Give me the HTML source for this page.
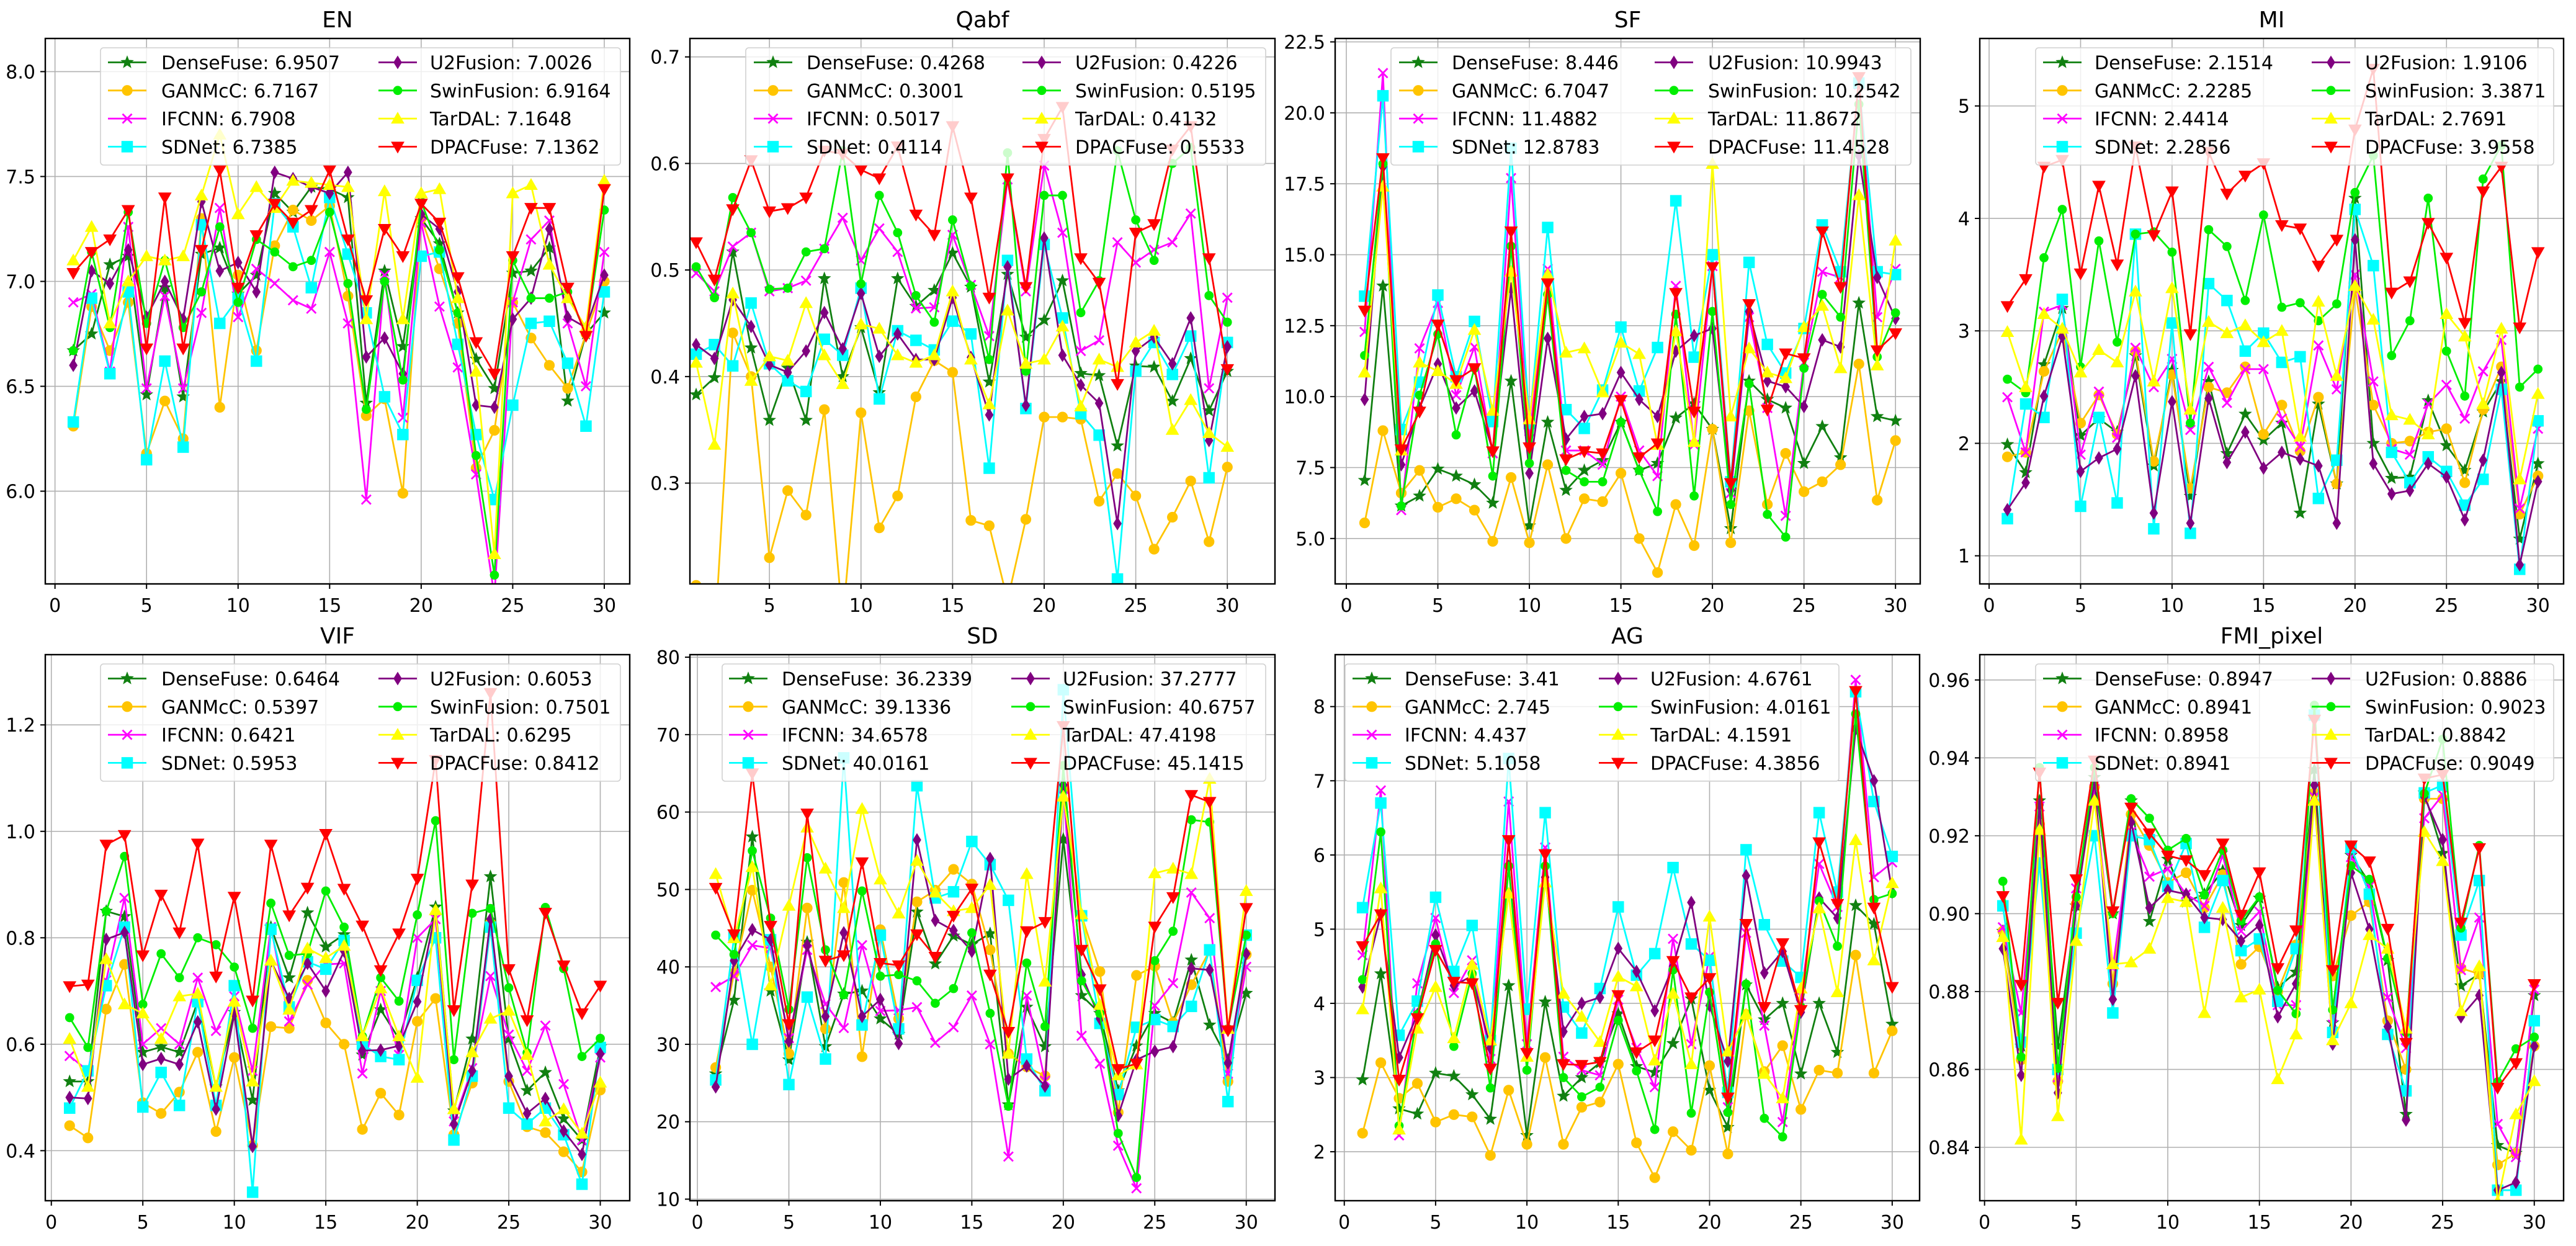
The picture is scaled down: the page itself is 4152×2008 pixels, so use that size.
<!DOCTYPE html>
<html><head><meta charset="utf-8"><title>Fusion metrics</title>
<style>
html,body{margin:0;padding:0;background:#fff;}
svg{display:block;font-family:"DejaVu Sans","Liberation Sans",sans-serif;}
</style></head>
<body>
<svg id="fig" width="4152" height="2008" viewBox="0 0 4152 2008" xmlns="http://www.w3.org/2000/svg"></svg>
<script>
const methods = ["DenseFuse","GANMcC","IFCNN","SDNet","U2Fusion","SwinFusion","TarDAL","DPACFuse"];
const xCategories = [1,2,3,4,5,6,7,8,9,10,11,12,13,14,15,16,17,18,19,20,21,22,23,24,25,26,27,28,29,30];
const xTickLabels = [0,5,10,15,20,25,30];

const EN = [
[6.67,6.75,7.08,7.12,6.46,6.97,6.45,7.13,7.16,6.94,7.03,7.42,7.33,7.45,7.44,7.4,6.42,7.05,6.69,7.3,7.18,6.85,6.63,6.49,7.04,7.05,7.16,6.43,6.75,6.85],
[6.31,6.88,6.67,6.9,6.18,6.43,6.25,7.3,6.4,7.03,6.67,7.17,7.34,7.29,7.36,6.93,6.36,6.44,5.99,7.3,7.06,6.8,6.11,6.29,6.9,6.73,6.6,6.49,6.75,7.0],
[6.9,6.94,6.57,7.26,6.49,6.93,6.49,6.85,7.35,6.83,7.06,6.99,6.91,6.87,7.14,6.8,5.96,7.03,6.35,7.28,6.88,6.59,6.08,5.5,6.9,7.2,7.29,6.8,6.5,7.14],
[6.33,6.92,6.56,6.95,6.15,6.62,6.21,7.27,6.8,6.92,6.62,7.37,7.26,6.97,7.4,7.13,6.85,6.45,6.27,7.12,7.14,6.7,6.27,5.96,6.41,6.8,6.81,6.61,6.31,6.95],
[6.6,7.05,6.99,7.15,6.83,7.0,6.82,7.38,7.05,7.09,6.95,7.52,7.49,7.45,7.42,7.52,6.64,6.73,6.56,7.32,7.25,6.95,6.41,6.4,6.82,6.92,7.25,6.83,6.78,7.03],
[6.67,7.14,6.78,7.33,6.8,7.1,6.78,6.95,7.26,6.9,7.2,7.14,7.07,7.1,7.33,6.99,6.39,7.0,6.53,7.38,7.15,6.85,6.17,5.6,7.1,6.92,6.92,6.95,6.75,7.34],
[7.1,7.26,6.8,7.0,7.12,7.1,7.12,7.41,7.7,7.32,7.45,7.35,7.48,7.47,7.46,7.45,6.82,7.43,6.82,7.42,7.44,6.92,6.57,5.7,7.42,7.46,7.08,6.92,6.78,7.48],
[7.04,7.14,7.2,7.34,6.68,7.4,6.68,7.15,7.53,6.97,7.22,7.37,7.28,7.34,7.53,7.2,6.91,7.25,7.12,7.37,7.28,7.02,6.71,6.56,7.12,7.35,7.35,6.97,6.74,7.44]];

const QABF = [
[.383,.399,.517,.427,.359,.408,.359,.492,.4,.446,.385,.492,.466,.481,.516,.484,.395,.496,.437,.453,.49,.403,.401,.335,.41,.409,.377,.417,.368,.405],
[.204,.15,.441,.4,.23,.293,.27,.369,.17,.366,.258,.288,.381,.415,.404,.265,.26,.19,.266,.362,.362,.36,.283,.309,.288,.238,.268,.302,.245,.315],
[.497,.48,.522,.535,.48,.483,.49,.52,.549,.509,.539,.517,.464,.465,.533,.486,.438,.585,.48,.598,.535,.424,.434,.526,.507,.519,.526,.553,.389,.474],
[.421,.43,.41,.469,.412,.396,.386,.435,.42,.483,.379,.443,.434,.425,.452,.44,.314,.509,.37,.524,.455,.365,.345,.21,.405,.432,.402,.438,.305,.432],
[.43,.417,.472,.447,.411,.404,.424,.46,.426,.478,.419,.44,.416,.416,.474,.418,.364,.503,.373,.53,.42,.392,.375,.262,.424,.437,.412,.455,.34,.428],
[.503,.474,.568,.535,.482,.483,.517,.52,.612,.487,.57,.535,.476,.451,.547,.485,.416,.61,.405,.57,.57,.46,.49,.612,.547,.509,.6,.615,.476,.451],
[.413,.336,.478,.396,.419,.415,.469,.42,.393,.449,.445,.42,.413,.42,.48,.416,.374,.462,.412,.416,.447,.372,.416,.409,.432,.443,.35,.378,.347,.334],
[.526,.491,.557,.603,.555,.558,.568,.612,.609,.594,.586,.616,.552,.533,.635,.568,.474,.586,.484,.623,.653,.511,.488,.393,.535,.543,.613,.635,.511,.407]];

const SF = [
[7.05,13.9,6.15,6.5,7.45,7.2,6.9,6.25,10.55,5.45,9.1,6.7,7.4,7.75,9.1,7.4,7.65,9.25,9.75,8.85,5.35,10.55,9.9,9.6,7.65,8.95,7.85,13.3,9.3,9.15],
[5.55,8.8,6.6,7.4,6.1,6.4,6.0,4.9,7.15,4.85,7.6,5.0,6.4,6.3,7.3,5.0,3.8,6.2,4.75,8.85,4.85,9.5,6.2,8.0,6.65,7.0,7.6,11.15,6.35,8.45],
[12.28,21.4,6.0,11.7,13.3,10.05,11.75,8.0,17.7,8.5,14.5,8.1,8.1,7.6,10.0,8.1,7.2,13.9,8.3,14.6,6.6,12.8,9.6,5.8,11.2,14.4,14.2,21.0,12.8,14.5],
[13.54,20.6,8.84,10.51,13.58,10.7,12.65,9.12,18.75,9.05,15.96,9.54,8.88,10.23,12.45,10.2,11.73,16.9,11.39,15.0,7.0,14.73,11.84,10.83,12.4,16.05,14.4,21.05,14.4,14.3],
[9.9,18.1,7.6,9.6,11.15,9.6,10.2,8.1,13.8,7.3,12.05,8.5,9.3,9.4,10.85,9.9,9.3,11.6,12.15,12.4,6.7,13.0,10.55,10.35,9.65,12.0,11.75,18.5,14.2,12.75],
[11.45,18.2,6.15,10.05,12.2,8.65,11.0,7.2,15.3,7.65,13.6,7.4,7.0,7.0,9.1,7.4,5.95,12.9,6.5,13.0,6.2,10.45,5.85,5.05,11.0,13.6,12.8,20.3,11.4,12.95],
[10.85,17.4,8.1,11.2,10.9,10.45,12.35,9.5,14.4,9.2,14.3,11.55,11.7,10.15,11.9,11.5,8.3,12.3,8.4,18.2,9.3,11.7,10.85,10.65,12.45,13.2,11.0,17.1,11.1,15.5],
[13.03,18.4,8.14,9.47,12.54,10.58,11.0,8.07,15.82,8.21,13.99,7.79,8.07,8.0,9.88,7.86,8.35,13.65,9.47,14.56,6.95,13.26,9.54,11.52,11.35,15.82,13.86,21.26,11.63,12.23]];

const MI = [
[1.99,1.74,2.7,3.2,2.07,2.22,2.1,2.78,1.8,2.65,1.53,2.55,1.91,2.26,2.03,2.18,1.38,2.35,1.64,4.18,2.0,1.69,1.7,2.38,1.98,1.76,2.28,2.55,1.15,1.82],
[1.88,1.92,2.64,3.0,2.18,2.43,2.08,2.82,1.84,2.61,1.6,2.5,2.45,2.68,2.08,2.34,1.93,2.41,1.64,3.38,2.34,2.0,2.02,2.1,2.13,1.65,2.3,2.68,1.37,1.71],
[2.41,1.92,3.17,3.23,1.9,2.46,2.05,2.85,2.5,2.75,2.12,2.68,2.36,2.66,2.66,2.22,1.97,2.87,2.48,3.5,2.55,1.95,1.9,2.35,2.52,2.22,2.64,2.92,1.42,2.13],
[1.33,2.35,2.23,3.28,1.44,2.23,1.47,3.86,1.24,3.07,1.2,3.42,3.27,2.82,2.98,2.72,2.77,1.51,1.85,4.08,3.58,1.92,1.65,1.88,1.75,1.45,1.68,2.48,0.88,2.2],
[1.41,1.65,2.42,2.95,1.75,1.87,1.95,2.6,1.38,2.37,1.29,2.4,1.83,2.1,1.78,1.92,1.86,1.8,1.29,3.81,1.82,1.55,1.58,1.82,1.7,1.32,1.85,2.63,0.92,1.66],
[2.57,2.45,3.65,4.08,2.68,3.8,2.9,3.86,3.88,3.7,2.18,3.9,3.75,3.27,4.03,3.21,3.25,3.09,3.24,4.23,4.56,2.78,3.09,4.18,2.82,2.42,4.35,4.65,2.5,2.66],
[2.99,2.5,3.15,3.02,2.63,2.83,2.72,3.35,2.55,3.38,2.3,3.08,2.98,3.05,2.9,3.0,2.06,3.26,2.6,3.4,3.1,2.25,2.21,2.08,3.15,2.95,2.35,3.02,1.68,2.44],
[3.22,3.46,4.46,4.52,3.51,4.29,3.59,4.64,3.85,4.24,2.97,4.59,4.22,4.38,4.49,3.94,3.91,3.58,3.81,4.79,5.33,3.34,3.44,3.96,3.65,3.07,4.24,4.46,3.03,3.7]];

const VIF = [
[.53,.53,.85,.84,.585,.595,.585,.68,.52,.66,.495,.82,.725,.847,.783,.806,.58,.665,.61,.725,.858,.475,.61,.915,.61,.513,.547,.46,.42,.595],
[.447,.424,.666,.75,.49,.47,.51,.585,.436,.575,.41,.633,.63,.72,.64,.6,.44,.508,.467,.643,.686,.43,.527,.828,.53,.445,.434,.398,.36,.514],
[.578,.55,.72,.875,.6,.63,.6,.725,.625,.69,.55,.82,.643,.712,.75,.752,.545,.7,.58,.8,.835,.455,.555,.728,.618,.55,.635,.525,.42,.575],
[.48,.55,.71,.82,.482,.547,.485,.68,.485,.71,.322,.816,.67,.755,.741,.795,.6,.577,.571,.72,.8,.42,.54,.82,.48,.45,.48,.43,.337,.594],
[.5,.498,.797,.81,.562,.573,.562,.642,.478,.657,.408,.756,.686,.752,.7,.775,.588,.589,.597,.68,.85,.45,.55,.835,.54,.47,.498,.437,.393,.582],
[.65,.594,.85,.953,.675,.77,.725,.8,.787,.745,.63,.865,.767,.77,.888,.82,.615,.725,.681,.843,1.02,.571,.846,.855,.706,.584,.857,.742,.577,.611],
[.61,.52,.76,.675,.658,.61,.69,.695,.52,.68,.53,.757,.665,.78,.762,.785,.615,.705,.615,.537,.852,.478,.585,.648,.663,.58,.455,.478,.432,.528],
[.709,.712,.975,.993,.767,.881,.81,.977,.727,.877,.682,.975,.842,.894,.995,.892,.823,.739,.808,.911,1.134,.664,.9,1.26,.741,.645,.847,.748,.658,.71]];

const SD = [
[26.2,35.7,56.8,36.9,28.0,43.2,29.7,36.5,36.9,33.3,31.3,47.1,40.4,44.0,42.9,44.3,22.2,34.8,29.7,56.5,36.3,34.0,24.0,29.8,34.0,32.8,40.9,32.5,28.0,36.6],
[27.0,39.2,49.9,40.0,28.8,47.6,32.0,50.9,28.4,44.8,33.3,48.4,49.9,52.6,50.7,42.2,28.8,27.1,25.9,63,46.6,39.4,21.2,38.9,40.1,32.8,37.7,42.1,25.2,41.6],
[37.4,38.8,42.8,42.4,30.8,42.2,35.2,32.1,42.8,34.3,34.4,34.8,30.2,32.2,36.3,30.0,15.5,36.3,25.3,63,31.1,27.5,16.9,11.4,35.0,37.9,49.6,46.3,26.2,40.0],
[25.4,43.8,30.0,43.5,24.8,36.1,28.1,67,32.5,44.1,32.0,63.4,48.9,49.7,56.2,53.2,48.6,28.1,24.0,75.8,46.6,32.7,23.5,32.2,33.2,32.3,34.9,42.2,22.6,44.1],
[24.5,40.8,44.8,43.5,30.4,42.8,33.6,44.4,33.6,35.8,30.1,56.4,46.0,44.7,42.0,54.0,25.5,27.2,24.6,63.5,39.0,33.3,20.8,28.0,29.1,29.7,39.8,39.6,27.6,41.7],
[44.1,41.6,55.0,46.3,34.5,54.1,42.2,36.4,49.8,38.8,39.0,38.2,35.3,37.2,44.4,34.0,22.0,40.5,32.3,66,38.2,34.0,18.5,12.8,40.8,44.6,59.0,58.7,32,44.1],
[52,43.7,52.9,37.6,47.9,58,52.7,47.6,60.4,51.3,46.9,53.7,49.6,47.2,47.6,50.6,28.8,52,38.1,62,46.8,35.1,26.0,27.4,52.1,52.7,52.0,64.3,32.0,49.8],
[50.2,44.2,65,45.3,32.6,59.8,40.8,41.5,53.5,40.5,40.2,44.2,41.3,46.6,50.1,39.0,31.6,44.6,45.8,71.1,42.2,37.1,26.8,27.5,45.2,49.0,62.2,61.3,31.8,47.6]];

const AG = [
[2.97,4.4,2.58,2.51,3.06,3.02,2.77,2.44,4.24,2.22,4.02,2.75,3.0,3.2,3.86,3.15,3.07,3.46,4.06,2.83,2.33,4.25,3.78,4.0,3.05,4.0,3.34,5.32,5.07,3.72],
[2.25,3.2,2.72,2.92,2.4,2.5,2.47,1.95,2.83,2.1,3.27,2.1,2.6,2.67,3.18,2.12,1.65,2.27,2.02,3.16,1.97,3.85,3.08,3.43,2.57,3.1,3.06,4.65,3.06,3.63],
[4.65,6.87,2.22,4.27,5.15,4.14,4.58,3.25,6.72,3.45,6.1,3.28,3.1,3.03,4.05,3.4,2.87,4.87,3.45,4.63,2.6,4.95,3.7,2.4,4.1,5.88,5.3,8.36,5.7,5.9],
[5.29,6.7,3.57,4.03,5.43,4.43,5.05,3.5,7.3,3.92,6.57,3.95,3.6,4.2,5.3,4.38,4.67,5.83,4.8,4.58,2.8,6.07,5.06,4.57,4.35,6.57,5.5,8.2,6.72,5.98],
[4.22,5.2,3.27,3.85,4.92,4.24,4.37,3.4,5.85,3.35,5.7,3.62,4.0,4.08,4.74,4.43,3.9,4.5,5.36,3.97,3.22,5.72,4.41,4.7,3.88,5.42,5.15,7.7,7.0,5.5],
[4.32,6.31,2.35,3.85,4.8,3.42,4.4,2.86,5.85,3.1,5.85,3.0,2.74,2.87,3.77,3.09,2.3,4.45,2.52,4.15,2.53,4.26,2.45,2.2,3.95,5.38,4.77,7.9,5.4,5.48],
[3.92,5.55,2.3,3.66,4.22,3.53,4.52,3.5,5.48,3.28,5.63,4.13,3.82,3.48,4.36,4.23,3.23,4.13,3.18,5.17,3.35,3.85,3.05,2.72,4.2,5.28,4.15,6.2,4.58,5.62],
[4.77,5.2,2.97,3.8,4.72,4.29,4.27,3.12,6.2,3.33,6.01,3.18,3.17,3.21,4.11,3.34,3.5,4.57,4.08,4.34,2.73,5.07,3.95,4.81,3.91,6.17,5.34,8.21,5.29,4.22]];

const FMI = [
[.8955,.866,.929,.866,.902,.935,.9,.929,.898,.914,.903,.905,.911,.897,.904,.881,.885,.937,.872,.915,.908,.888,.8485,.931,.9155,.8815,.8845,.8405,.8385,.879],
[.8955,.8625,.923,.857,.9025,.9325,.882,.9255,.9175,.908,.9105,.9015,.91,.887,.8915,.88,.892,.931,.884,.8995,.903,.8725,.86,.9295,.9295,.886,.8845,.8355,.8385,.866],
[.8965,.8745,.9275,.858,.9065,.932,.886,.921,.9095,.9115,.905,.902,.915,.8955,.9005,.8765,.8765,.93,.8715,.9145,.907,.8785,.8655,.9245,.9305,.8855,.899,.846,.8375,.8805],
[.902,.867,.913,.86,.895,.92,.8745,.92,.919,.907,.918,.8965,.9085,.8905,.8935,.8775,.891,.951,.8695,.917,.905,.869,.8545,.931,.933,.8945,.9085,.829,.829,.8725],
[.891,.8585,.928,.854,.902,.934,.878,.9235,.9015,.906,.905,.899,.8985,.893,.897,.8735,.882,.933,.8665,.9105,.896,.871,.847,.93,.919,.8735,.879,.829,.831,.866],
[.9083,.8632,.9375,.8603,.9043,.9375,.900,.9295,.9245,.9163,.9193,.9048,.9163,.8982,.9043,.8803,.8743,.9535,.8753,.9123,.9088,.8885,.8695,.9308,.9448,.8963,.9175,.8568,.8653,.8683],
[.894,.842,.9215,.848,.893,.929,.887,.8875,.891,.904,.903,.8745,.9015,.8785,.8805,.8575,.869,.929,.8675,.877,.8945,.891,.8705,.921,.9135,.875,.8865,.826,.8485,.857],
[.9045,.8817,.9362,.8771,.9088,.9393,.9006,.9272,.9206,.9149,.9137,.9099,.918,.8997,.9106,.886,.8957,.9498,.8855,.9175,.9134,.8961,.8668,.9347,.9357,.8977,.9168,.8553,.8616,.8819]];

const legendEN = ["6.9507","6.7167","6.7908","6.7385","7.0026","6.9164","7.1648","7.1362"];
const legendQABF = ["0.4268","0.3001","0.5017","0.4114","0.4226","0.5195","0.4132","0.5533"];
const legendSF = ["8.446","6.7047","11.4882","12.8783","10.9943","10.2542","11.8672","11.4528"];
const legendMI = ["2.1514","2.2285","2.4414","2.2856","1.9106","3.3871","2.7691","3.9558"];
const legendVIF = ["0.6464","0.5397","0.6421","0.5953","0.6053","0.7501","0.6295","0.8412"];
const legendSD = ["36.2339","39.1336","34.6578","40.0161","37.2777","40.6757","47.4198","45.1415"];
const legendAG = ["3.41","2.745","4.437","5.1058","4.6761","4.0161","4.1591","4.3856"];
const legendFMI = ["0.8947","0.8941","0.8958","0.8941","0.8886","0.9023","0.8842","0.9049"];

const yTicksEN = ["6.0","6.5","7.0","7.5","8.0"];
const yTicksQABF = ["0.3","0.4","0.5","0.6","0.7"];
const yTicksSF = ["5.0","7.5","10.0","12.5","15.0","17.5","20.0","22.5"];
const yTicksMI = ["1","2","3","4","5"];
const yTicksVIF = ["0.4","0.6","0.8","1.0","1.2"];
const yTicksSD = ["10","20","30","40","50","60","70","80"];
const yTicksAG = ["2","3","4","5","6","7","8"];
const yTicksFMI = ["0.84","0.86","0.88","0.90","0.92","0.94","0.96"];

const colors = ["#118011","#ffc400","#ff00ff","#00ffff","#800080","#00ee00","#ffff00","#ff0000"];
const markers = ["star","circle","x","square","diamond","circle2","tri","trid"];

const panels = [
 {title:"EN",data:EN,leg:legendEN,yt:yTicksEN,box:[73,62,1015,941],xl:[-0.53,31.39],yl:[5.558,8.158],lg:[89,101,187,537,620,927]},
 {title:"Qabf",data:QABF,leg:legendQABF,yt:yTicksQABF,box:[1112,62,2055,941],xl:[0.66,32.6],yl:[0.2054,0.7173],lg:[90,103,188,536,621,928]},
 {title:"SF",data:SF,leg:legendSF,yt:yTicksSF,box:[2152,62,3095,941],xl:[-0.61,31.35],yl:[3.40,22.62],lg:[90,103,188,515,601,928]},
 {title:"MI",data:MI,leg:legendMI,yt:yTicksMI,box:[3191,62,4132,941],xl:[-0.51,31.4],yl:[0.75,5.6],lg:[90,102,185,535,621,925]},
 {title:"VIF",data:VIF,leg:legendVIF,yt:yTicksVIF,box:[73,1055,1015,1935],xl:[-0.33,31.61],yl:[0.306,1.332],lg:[89,101,187,537,620,927]},
 {title:"SD",data:SD,leg:legendSD,yt:yTicksSD,box:[1112,1055,2055,1935],xl:[-0.41,31.57],yl:[9.8,80.33],lg:[52,63,148,518,601,928]},
 {title:"AG",data:AG,leg:legendAG,yt:yTicksAG,box:[2152,1055,3094,1935],xl:[-0.5,31.5],yl:[1.34,8.7],lg:[16,28,112,425,508,812]},
 {title:"FMI_pixel",data:FMI,leg:legendFMI,yt:yTicksFMI,box:[3191,1055,4132,1935],xl:[-0.26,31.6],yl:[0.8263,0.9665],lg:[90,102,185,535,621,925]}
];

const NS = "http://www.w3.org/2000/svg";
const svg = document.getElementById("fig");
const MS = 1.25;
function mk(tag, attrs, parent){
  const e = document.createElementNS(NS, tag);
  for (const k in attrs) e.setAttribute(k, attrs[k]);
  parent.appendChild(e);
  return e;
}
function marker(g, type, x, y, c){
  let e; const s = MS;
  if (type==="circle"){ e = mk("circle",{cx:x,cy:y,r:6.5*s,fill:c,stroke:c},g); }
  else if (type==="circle2"){ e = mk("circle",{cx:x,cy:y,r:5.5*s,fill:c,stroke:c},g); }
  else if (type==="square"){ e = mk("rect",{x:x-7*s,y:y-7*s,width:14*s,height:14*s,fill:c,stroke:c},g); }
  else if (type==="x"){ const a=6*s; e = mk("path",{d:`M${x-a},${y-a}L${x+a},${y+a}M${x-a},${y+a}L${x+a},${y-a}`,stroke:c,"stroke-width":2.8,fill:"none"},g); }
  else if (type==="diamond"){ e = mk("path",{d:`M${x},${y-8*s}L${x+5*s},${y}L${x},${y+8*s}L${x-5*s},${y}Z`,fill:c,stroke:c},g); }
  else if (type==="tri"){ e = mk("path",{d:`M${x},${y-8*s}L${x+8*s},${y+6*s}L${x-8*s},${y+6*s}Z`,fill:c,stroke:c},g); }
  else if (type==="trid"){ e = mk("path",{d:`M${x},${y+8*s}L${x+8*s},${y-6*s}L${x-8*s},${y-6*s}Z`,fill:c,stroke:c},g); }
  else {
    let d=""; for(let k=0;k<10;k++){const r=((k%2===0)?8:3.4)*s;const a=-Math.PI/2+k*Math.PI/5;d+=(k?"L":"M")+(x+r*Math.cos(a)).toFixed(2)+","+(y+r*Math.sin(a)).toFixed(2);} d+="Z";
    e = mk("path",{d:d,fill:c,stroke:c,"stroke-width":1},g);
  }
  return e;
}

panels.forEach((p, pi) => {
  const [L,T,R,B] = p.box;
  const sx = v => L + (v - p.xl[0]) / (p.xl[1]-p.xl[0]) * (R-L);
  const sy = v => B - (v - p.yl[0]) / (p.yl[1]-p.yl[0]) * (B-T);
  const g = mk("g",{},svg);
  
  
  const cp = mk("clipPath",{id:"clip"+pi},g);
  mk("rect",{x:L,y:T,width:R-L,height:B-T},cp);
  const t = mk("text",{x:(L+R)/2,y:T-18,"text-anchor":"middle","font-size":36,fill:"#000"},g);
  t.textContent = p.title;
  
  
  const gridG = mk("g",{},g);
  
  
  xTickLabels.forEach(v => {
    if (v < p.xl[0] || v > p.xl[1]) return;
    const x = sx(v);
    mk("line",{x1:x,y1:T,x2:x,y2:B,stroke:"#b0b0b0","stroke-width":1.6},gridG);
    mk("line",{x1:x,y1:B,x2:x,y2:B+8,stroke:"#000","stroke-width":2},gridG);
    const tl = mk("text",{x:x,y:B+45,"text-anchor":"middle","font-size":30,fill:"#000"},gridG);
    tl.textContent = String(v);
    
    
  });
  p.yt.forEach(s => {
    const v = parseFloat(s);
    const y = sy(v);
    mk("line",{x1:L,y1:y,x2:R,y2:y,stroke:"#b0b0b0","stroke-width":1.6},gridG);
    mk("line",{x1:L-8,y1:y,x2:L,y2:y,stroke:"#000","stroke-width":2},gridG);
    const tl = mk("text",{x:L-16,y:y+11,"text-anchor":"end","font-size":30,fill:"#000"},gridG);
    tl.textContent = s;
    
    
  });
  const sg = mk("g",{"clip-path":`url(#clip${pi})`},g);
  p.data.forEach((vals, si) => {
    const c = colors[si];
    const s = mk("g",{},sg);
    
    
    const pts = vals.map((v,i) => sx(xCategories[i]).toFixed(2)+","+sy(v).toFixed(2)).join(" ");
    mk("polyline",{points:pts,fill:"none",stroke:c,"stroke-width":2.8,"stroke-linejoin":"round"},s);
    vals.forEach((v,i) => {
      const m = marker(s, markers[si], sx(xCategories[i]), sy(v), c);
      
      
    });
  });
  const sp = mk("rect",{x:L,y:T,width:R-L,height:B-T,fill:"none",stroke:"#000","stroke-width":2.4},g);
  
  
  const lg = p.lg;
  const lgG = mk("g",{},g);
  
  
  mk("rect",{x:L+lg[0],y:T+15,width:lg[5]-lg[0],height:189,rx:5,fill:"#fff","fill-opacity":0.8,stroke:"#d0d0d0","stroke-width":1.6},lgG);
  methods.forEach((m, si) => {
    const col = si < 4 ? 0 : 1;
    const row = si % 4;
    const y = T + 38.5 + row*45.3;
    const x1 = L + (col ? lg[3] : lg[1]);
    const tx = L + (col ? lg[4] : lg[2]);
    const e = mk("g",{},lgG);
    
    
    mk("line",{x1:x1,y1:y,x2:x1+62,y2:y,stroke:colors[si],"stroke-width":2.8},e);
    marker(e, markers[si], x1+31, y, colors[si]);
    const tt = mk("text",{x:tx,y:y+11,"font-size":30,fill:"#000"},e);
    tt.textContent = m + ": " + p.leg[si];
  });
});
</script>
</body></html>
